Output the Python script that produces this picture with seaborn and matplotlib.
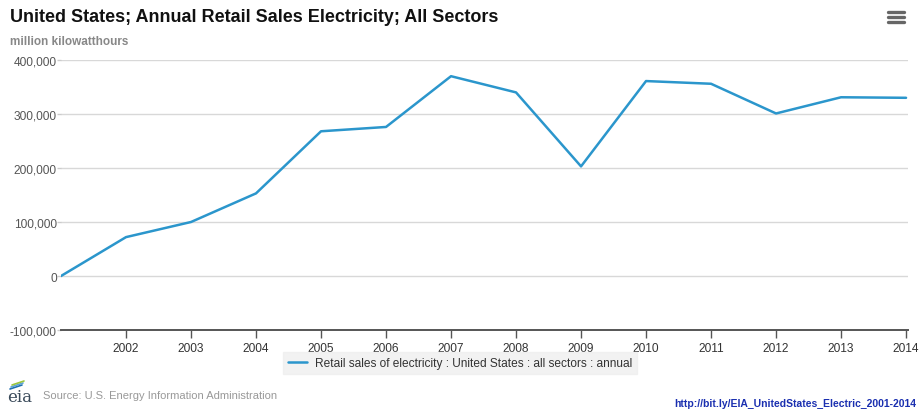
import matplotlib
matplotlib.use("Agg")
import matplotlib.pyplot as plt
import seaborn as sns
import pandas as pd
from matplotlib.lines import Line2D
from matplotlib.ticker import FuncFormatter

years = [2001, 2002, 2003, 2004, 2005, 2006, 2007, 2008, 2009, 2010, 2011, 2012, 2013, 2014]
sales = [0, 72000, 100000, 153000, 268000, 276000, 370000, 340000, 203000, 361000, 356000, 301000, 331000, 330000]
xticks = [2002, 2003, 2004, 2005, 2006, 2007, 2008, 2009, 2010, 2011, 2012, 2013, 2014]
yticks = [-100000, 0, 100000, 200000, 300000, 400000]
series_name = "Retail sales of electricity : United States : all sectors : annual"

sns.set_style("white")
plt.rcParams['font.family'] = ['Liberation Sans', 'DejaVu Sans']

df = pd.DataFrame({"year": years, "sales": sales})

fig = plt.figure(figsize=(9.2, 4.1), dpi=100)
ax = fig.add_axes([61/920, 1 - 331/410, (908 - 61)/920, (331 - 61)/410])

line_color = "#2b96cc"
sns.lineplot(data=df, x="year", y="sales", ax=ax, color=line_color, linewidth=1.8)

ax.set_xlim(2001, 2014.03)
ax.set_ylim(-100000, 400000)
ax.set_xticks(xticks)
ax.set_yticks(yticks)
ax.yaxis.set_major_formatter(FuncFormatter(lambda v, p: f"{int(v):,}"))
ax.set_xlabel("")
ax.set_ylabel("")

for y in yticks[1:]:
    ax.axhline(y, color="#d8d8d8", linewidth=1.0, zorder=0)

for s in ["top", "right", "left"]:
    ax.spines[s].set_visible(False)
ax.spines["bottom"].set_color("#555555")
ax.spines["bottom"].set_linewidth(1.4)

ax.tick_params(axis="x", colors="#555555", length=6, width=1, direction="out",
               labelsize=8.6, labelcolor="#333333", pad=3, bottom=True)
ax.tick_params(axis="y", colors="#cccccc", length=3, width=1, direction="out",
               labelsize=8.6, labelcolor="#555555", pad=0, left=True)

leg = fig.legend([Line2D([0], [0], color=line_color, lw=1.8)], [series_name],
                 loc="center", bbox_to_anchor=(460/920, 1 - 364/410), frameon=True,
                 fontsize=8.6, handlelength=1.6, handletextpad=0.6, borderpad=0.45,
                 borderaxespad=0, fancybox=False)
leg.get_frame().set_facecolor("#efefef")
leg.get_frame().set_edgecolor("#efefef")
for t in leg.get_texts():
    t.set_color("#333333")

fig.text(10/920, 1 - 18/410, "United States; Annual Retail Sales Electricity; All Sectors",
         fontsize=13, fontweight="bold", color="#111111", va="center", ha="left")
fig.text(10/920, 1 - 42/410, "million kilowatthours", fontsize=8.5, fontweight="bold",
         color="#888888", va="center", ha="left")

# menu icon
for yy in [13, 18, 23]:
    fig.add_artist(Line2D([888/920, 904/920], [1 - yy/410, 1 - yy/410], color="#666666", lw=2.4))

# source with eia logo
fig.text(7/920, 1 - 398/410, "eia", fontsize=12, family="DejaVu Serif", color="#3a4a5a",
         va="center", ha="left")
for r, c in [(0, "#1e6fb0"), (1, "#5aa3d6"), (2, "#9bc53d")]:
    fig.add_artist(Line2D([(10 + r) / 920, (22 + r) / 920], [1 - (390 - r*2)/410, 1 - (386 - r*2)/410],
                          color=c, lw=1.2))
fig.text(43/920, 1 - 396/410, "Source: U.S. Energy Information Administration",
         fontsize=8, color="#999999", va="center", ha="left")
fig.text(916/920, 1 - 407/410, "http://bit.ly/EIA_UnitedStates_Electric_2001-2014",
         fontsize=7.5, fontweight="bold", color="#1a2fb0", va="baseline", ha="right")

fig.savefig("out.png", dpi=100)
